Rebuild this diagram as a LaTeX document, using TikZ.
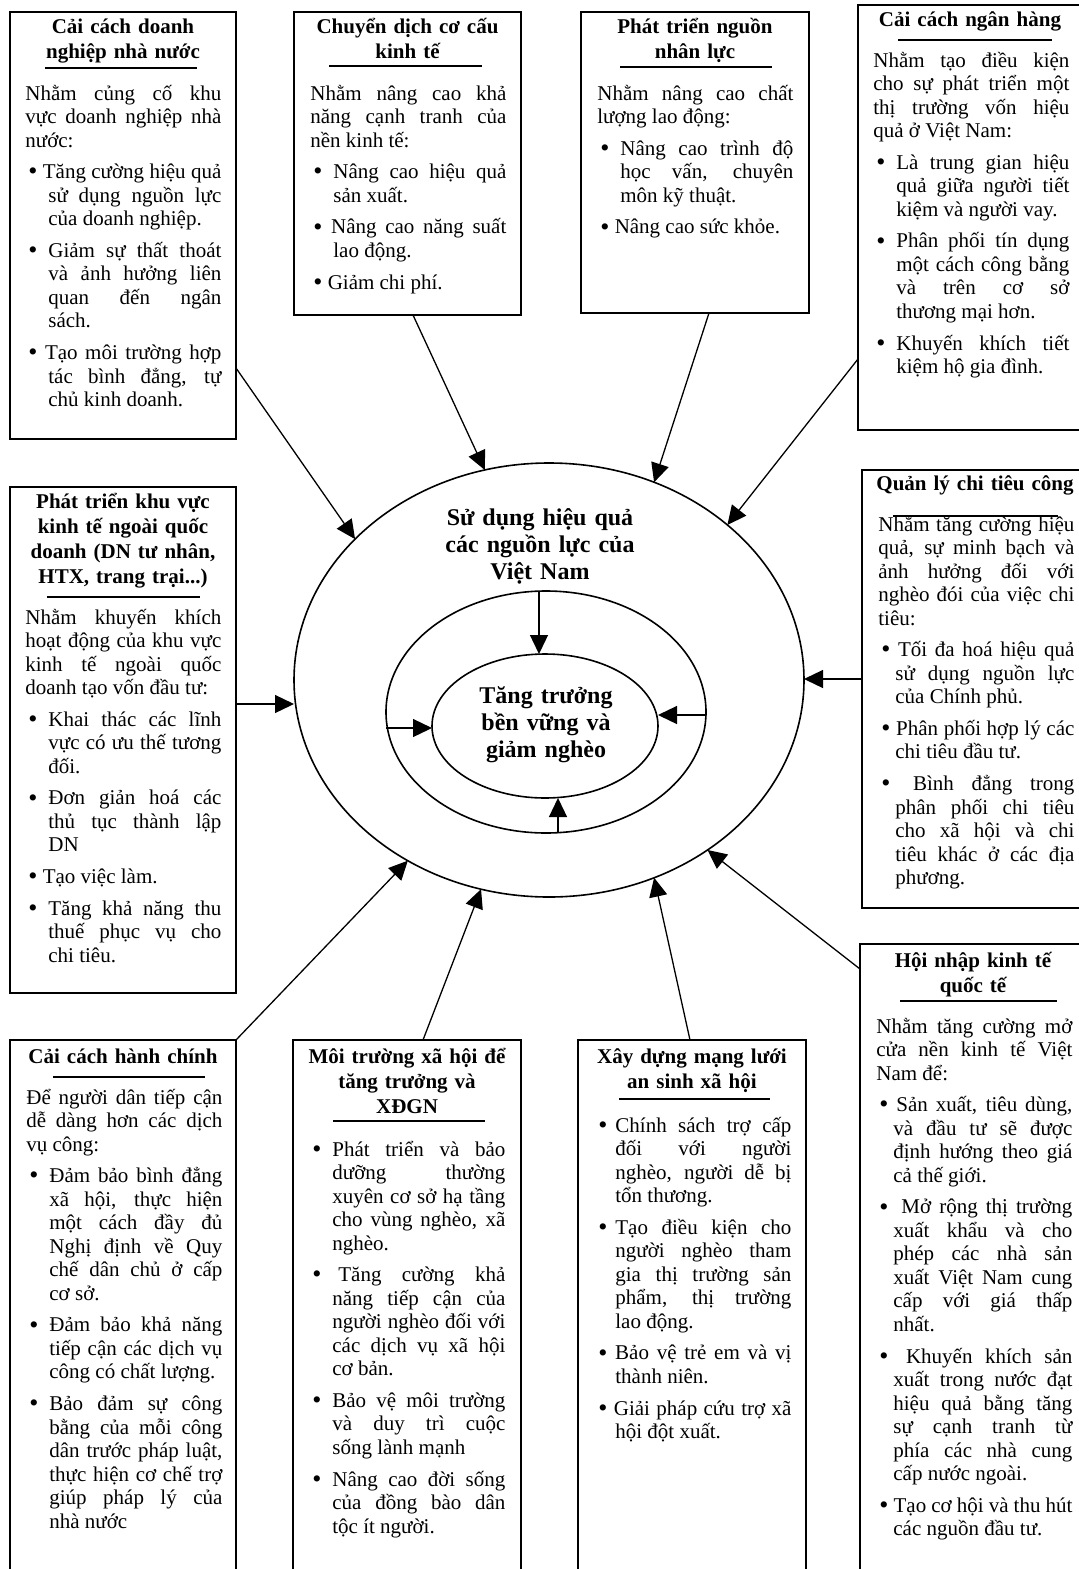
\documentclass[tikz,border=0pt]{standalone}
\usepackage{fontspec}
\setmainfont{Liberation Serif}
\usetikzlibrary{arrows.meta,shapes.geometric}

\newlength{\bhang}
\setlength{\bhang}{11.5pt}
\newcommand{\pbody}[1][11.5pt]{\setlength{\parskip}{4.1pt}\setlength{\bhang}{#1}\hyphenpenalty=10000\exhyphenpenalty=10000}
\newcommand{\dotb}{\raisebox{-0.6pt}{\fontsize{13pt}{13pt}\selectfont\textbullet}}
\newcommand{\blt}{\hangindent=\bhang\hangafter=1\makebox[\bhang][l]{\hspace{1.5pt}\dotb}}
\newcommand{\blts}{\hangindent=\bhang\hangafter=1\hspace{1.5pt}\dotb\ }
\newcommand{\jbr}{\linebreak}

\begin{document}
\begin{tikzpicture}[x=0.5pt, y=-0.5pt,
  box/.style={draw, line width=0.9pt, inner sep=0pt, outer sep=0pt, anchor=north west},
  ell/.style={draw, ellipse, line width=0.8pt, inner sep=0pt, outer sep=0pt},
  ttl/.style={font=\fontsize{10.5pt}{12.5pt}\selectfont\bfseries, align=center, text width=104pt, inner sep=0pt, anchor=base},
  body/.style={font=\fontsize{10.5pt}{11.75pt}\selectfont, align=justify, text width=98pt, inner sep=0pt, anchor=base west},
  ctr/.style={font=\fontsize{12pt}{13.5pt}\selectfont\bfseries, align=center, text width=110pt, inner sep=0pt, anchor=base},
  trule/.style={line width=0.8pt},
  arr/.style={-{Triangle[length=9.5pt,width=9pt]}, line width=0.65pt}]
\useasboundingbox (0,0) rectangle (1078,1569);

% Boxes
\node[box, minimum width=113pt, minimum height=213.5pt] (dnnn) at (10,12) {};
\node[box, minimum width=113.5pt, minimum height=151.5pt] (cdcc) at (294,12) {};
\node[box, minimum width=114pt, minimum height=150.5pt] (nnl) at (581,12) {};
\node[box, minimum width=115pt, minimum height=212.5pt] (nh) at (858,5) {};
\node[box, minimum width=113pt, minimum height=253pt] (nqd) at (10,487) {};
\node[box, minimum width=115pt, minimum height=219pt] (ctc) at (862,470) {};
\node[box, minimum width=113pt, minimum height=270pt] (hc) at (10,1040) {};
\node[box, minimum width=114pt, minimum height=270pt] (mtxh) at (293,1040) {};
\node[box, minimum width=114pt, minimum height=270pt] (ansinh) at (578,1040) {};
\node[box, minimum width=115pt, minimum height=320pt] (hnkt) at (860,944) {};

% Ellipses
\node[ell, minimum width=255pt, minimum height=217pt] (outer) at (549,680) {};
\node[ell, minimum width=160pt, minimum height=121pt] (mid) at (546,712) {};
\node[ell, minimum width=113pt, minimum height=72pt] (inner) at (545,726) {};
\node[ctr] (outtxt) at (540,525) {Sử dụng hiệu quả\\ các nguồn lực của\\ Việt Nam};
\node[ctr] (intxt) at (546,703) {Tăng trưởng\\ bền vững và\\ giảm nghèo};

% Titles
\node[ttl] (t-dnnn) at (123,33) {Cải cách doanh\\ nghiệp nhà nước};
\node[ttl] (t-cdcc) at (407.5,33) {Chuyển dịch cơ cấu\\ kinh tế};
\node[ttl] (t-nnl) at (695,33) {Phát triển nguồn\\ nhân lực};
\node[ttl] (t-nh) at (970,26) {Cải cách ngân hàng};
\node[ttl] (t-nqd) at (123,508) {Phát triển khu vực\\ kinh tế ngoài quốc\\ doanh (DN tư nhân,\\ HTX, trang trại...)};
\node[ttl] (t-ctc) at (975,490) {Quản lý chi tiêu công};
\node[ttl] (t-hc) at (123,1063) {Cải cách hành chính};
\node[ttl] (t-mtxh) at (407,1063) {Môi trường xã hội để\\ tăng trưởng và\\ XĐGN};
\node[ttl] (t-ansinh) at (692,1063) {Xây dựng mạng lưới\\ an sinh xã hội};
\node[ttl] (t-hnkt) at (973,967) {Hội nhập kinh tế\\ quốc tế};

% Title rules
\draw[trule] (45,68) -- (197,68);
\draw[trule] (329,66) -- (482,66);
\draw[trule] (620,67) -- (772,67);
\draw[trule] (898,40) -- (1052,40);
\draw[trule] (47,597) -- (200,597);
\draw[trule] (893,516) -- (1058,516);
\draw[trule] (53,1077) -- (205,1077);
\draw[trule] (333,1121) -- (485,1121);
\draw[trule] (619,1099) -- (770,1099);
\draw[trule] (900,1001) -- (1057,1001);

% Body texts
\node[body] (x-dnnn) at (25,100) {\pbody Nhằm củng cố khu\jbr vực doanh nghiệp nhà\jbr nước:\par
\blts Tăng cường hiệu quả\jbr sử dụng nguồn lực\jbr của doanh nghiệp.\par
\blt Giảm sự thất thoát\jbr và ảnh hưởng liên\jbr quan đến ngân\jbr sách.\par
\blts Tạo môi trường hợp\jbr tác bình đẳng, tự\jbr chủ kinh doanh.\par};

\node[body] (x-cdcc) at (310,100) {\pbody Nhằm nâng cao khả\jbr năng cạnh tranh của\jbr nền kinh tế:\par
\blt Nâng cao hiệu quả\jbr sản xuất.\par
\blts Nâng cao năng suất\jbr lao động.\par
\blts Giảm chi phí.\par};

\node[body] (x-nnl) at (597,100) {\pbody Nhằm nâng cao chất\jbr lượng lao động:\par
\blt Nâng cao trình độ\jbr học vấn, chuyên\jbr môn kỹ thuật.\par
\blts Nâng cao sức khỏe.\par};

\node[body] (x-nh) at (873,67) {\pbody Nhằm tạo điều kiện\jbr cho sự phát triển một\jbr thị trường vốn hiệu\jbr quả ở Việt Nam:\par
\blt Là trung gian hiệu\jbr quả giữa người tiết\jbr kiệm và người vay.\par
\blt Phân phối tín dụng\jbr một cách công bằng\jbr và trên cơ sở\jbr thương mại hơn.\par
\blt Khuyến khích tiết\jbr kiệm hộ gia đình.\par};

\node[body] (x-nqd) at (25,624) {\pbody Nhằm khuyến khích\jbr hoạt động của khu vực\jbr kinh tế ngoài quốc\jbr doanh tạo vốn đầu tư:\par
\blt Khai thác các lĩnh\jbr vực có ưu thế tương\jbr đối.\par
\blt Đơn giản hoá các\jbr thủ tục thành lập\jbr DN\par
\blts Tạo việc làm.\par
\blt Tăng khả năng thu\jbr thuế phục vụ cho\jbr chi tiêu.\par};

\node[body] (x-ctc) at (878,531) {\pbody[8.5pt]Nhằm tăng cường hiệu\jbr quả, sự minh bạch và\jbr ảnh hưởng đối với\jbr nghèo đói của việc chi\jbr tiêu:\par
\blts Tối đa hoá hiệu quả\jbr sử dụng nguồn lực\jbr của Chính phủ.\par
\blts Phân phối hợp lý các\jbr chi tiêu đầu tư.\par
\blt\ Bình đẳng trong\jbr phân phối chi tiêu\jbr cho xã hội và chi\jbr tiêu khác ở các địa\jbr phương.\par};

\node[body] (x-hc) at (26,1104) {\pbody Để người dân tiếp cận\jbr dễ dàng hơn các dịch\jbr vụ công:\par
\blt Đảm bảo bình đẳng\jbr xã hội, thực hiện\jbr một cách đầy đủ\jbr Nghị định về Quy\jbr chế dân chủ ở cấp\jbr cơ sở.\par
\blt Đảm bảo khả năng\jbr tiếp cận các dịch vụ\jbr công có chất lượng.\par
\blt Bảo đảm sự công\jbr bằng của mỗi công\jbr dân trước pháp luật,\jbr thực hiện cơ chế trợ\jbr giúp pháp lý của\jbr nhà nước\par};

\node[body] (x-mtxh) at (309,1156) {\pbody\blt Phát triển và bảo\jbr dưỡng thường\jbr xuyên cơ sở hạ tầng\jbr cho vùng nghèo, xã\jbr nghèo.\par
\blt\hspace{3pt}Tăng cường khả\jbr năng tiếp cận của\jbr người nghèo đối với\jbr các dịch vụ xã hội\jbr cơ bản.\par
\blt Bảo vệ môi trường\jbr và duy trì cuộc\jbr sống lành mạnh\par
\blt Nâng cao đời sống\jbr của đồng bào dân\jbr tộc ít người.\par};

\node[body] (x-ansinh) at (595,1132) {\pbody[10pt]\blt Chính sách trợ cấp\jbr đối với người\jbr nghèo, người dễ bị\jbr tổn thương.\par
\blt Tạo điều kiện cho\jbr người nghèo tham\jbr gia thị trường sản\jbr phẩm, thị trường\jbr lao động.\par
\blts Bảo vệ trẻ em và vị\jbr thành niên.\par
\blts Giải pháp cứu trợ xã\jbr hội đột xuất.\par};

\node[body] (x-hnkt) at (876,1033) {\pbody[8.5pt]Nhằm tăng cường mở\jbr cửa nền kinh tế Việt\jbr Nam để:\par
\blts Sản xuất, tiêu dùng,\jbr và đầu tư sẽ được\jbr định hướng theo giá\jbr cả thế giới.\par
\blt\ Mở rộng thị trường\jbr xuất khẩu và cho\jbr phép các nhà sản\jbr xuất Việt Nam cung\jbr cấp với giá thấp\jbr nhất.\par
\blt\ Khuyến khích sản\jbr xuất trong nước đạt\jbr hiệu quả bằng tăng\jbr sự cạnh tranh từ\jbr phía các nhà cung\jbr cấp nước ngoài.\par
\blts Tạo cơ hội và thu hút\jbr các nguồn đầu tư.\par};

% Arrows into the outer ellipse
\draw[arr] (dnnn.east |- 0,368) -- (outer.144.4);
\draw[arr] (cdcc.south -| 413,0) -- (outer.107.2);
\draw[arr] (nnl.south -| 709,0) -- (outer.62);
\draw[arr] (nh.west |- 0,359) -- (outer.41.2);
\draw[arr] (nqd.east |- 0,704) -- (outer.west |- 0,704);
\draw[arr] (ctc.west |- 0,679) -- (outer.east |- 0,679);
\draw[arr] (hc.north east) -- (outer.232.9);
\draw[arr] (mtxh.north -| 423,0) -- (outer.252.3);
\draw[arr] (ansinh.north -| 690,0) -- (outer.298.3);
\draw[arr] (hnkt.west |- 0,969) -- (outer.313.8);

% Arrows into the core
\draw[arr] (mid.north -| 539,0) -- (inner.north -| 539,0);
\draw[arr] (mid.west |- 0,728) -- (inner.west |- 0,728);
\draw[arr] (mid.east |- 0,715) -- (inner.east |- 0,715);
\draw[arr] (mid.south -| 558,0) -- (inner.south -| 558,0);
\end{tikzpicture}
\end{document}
